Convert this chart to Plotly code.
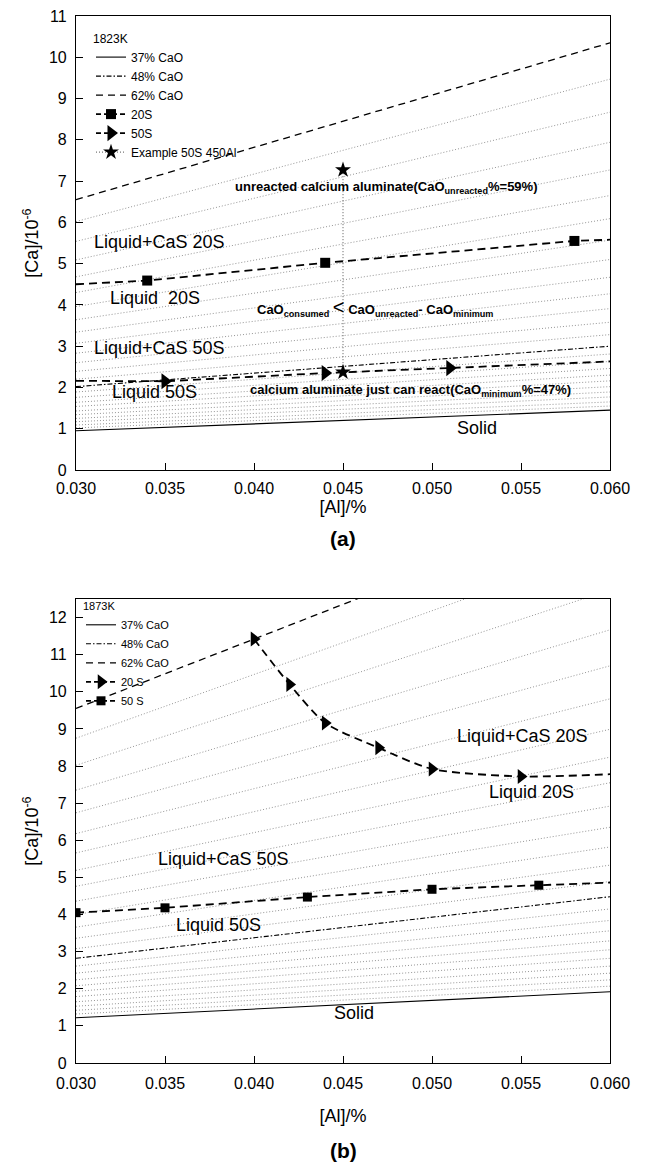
import plotly.graph_objects as go

FONT = "Liberation Sans, Arial, sans-serif"

# ---------------- iso-CaO lines (CaO mass % of the calcium aluminate) ----------------
cao_pct = [37, 38, 39, 40, 41, 42, 43, 44, 45, 46, 47, 48, 49,
           50, 51, 52, 53, 54, 55, 56, 57, 58, 59, 60, 61, 62]
al_span = [0.030, 0.060]

# 1823 K: [Ca] at [Al]=0.030 and at [Al]=0.060
iso_a_left = [0.95, 1.02, 1.09, 1.17, 1.25, 1.34, 1.43, 1.54, 1.64, 1.76, 1.89, 2.02, 2.20,
              2.39, 2.60, 2.83, 3.07, 3.34, 3.64, 3.96, 4.30, 4.68, 5.09, 5.54, 6.02, 6.55]
iso_a_right = [1.45, 1.55, 1.65, 1.77, 1.89, 2.02, 2.16, 2.30, 2.46, 2.63, 2.81, 3.00, 3.28,
               3.58, 3.91, 4.27, 4.67, 5.10, 5.57, 6.09, 6.65, 7.27, 7.94, 8.67, 9.47, 10.35]

# 1873 K
iso_b_left = [1.22, 1.32, 1.42, 1.53, 1.65, 1.79, 1.93, 2.08, 2.24, 2.42, 2.61, 2.82, 3.08,
              3.36, 3.66, 4.00, 4.36, 4.76, 5.19, 5.66, 6.18, 6.74, 7.35, 8.02, 8.75, 9.55]
iso_b_right = [1.92, 2.07, 2.24, 2.42, 2.61, 2.82, 3.05, 3.29, 3.56, 3.84, 4.15, 4.48, 4.89,
               5.33, 5.82, 6.35, 6.92, 7.55, 8.24, 8.99, 9.81, 10.70, 11.67, 12.74, 13.90, 15.16]

# ---------------- CaS saturation lines, 1823 K ----------------
s20_a_al = [0.034, 0.044, 0.058]
s20_a_ca = [4.59, 5.02, 5.55]
s20_a_line_al = [0.030, 0.034, 0.044, 0.058, 0.060]
s20_a_line_ca = [4.50, 4.59, 5.02, 5.55, 5.58]

s50_a_al = [0.035, 0.044, 0.051]
s50_a_ca = [2.15, 2.35, 2.47]
s50_a_line_al = [0.030, 0.035, 0.044, 0.051, 0.060]
s50_a_line_ca = [2.16, 2.15, 2.35, 2.47, 2.63]

example_al = [0.045, 0.045]
example_ca = [2.37, 7.27]

# ---------------- CaS saturation lines, 1873 K ----------------
s20_b_al = [0.040, 0.042, 0.044, 0.047, 0.050, 0.055]
s20_b_ca = [11.42, 10.20, 9.16, 8.49, 7.92, 7.72]
s20_b_line_al = [0.040, 0.042, 0.044, 0.047, 0.050, 0.055, 0.060]
s20_b_line_ca = [11.42, 10.20, 9.16, 8.49, 7.92, 7.72, 7.78]

s50_b_al = [0.030, 0.035, 0.043, 0.050, 0.056]
s50_b_ca = [4.05, 4.18, 4.47, 4.68, 4.79]
s50_b_line_al = [0.030, 0.035, 0.043, 0.050, 0.056, 0.060]
s50_b_line_ca = [4.05, 4.18, 4.47, 4.68, 4.79, 4.86]

x_ticks = [0.030, 0.035, 0.040, 0.045, 0.050, 0.055, 0.060]

STYLED = {37: ("solid", 1.1, "37% CaO"),
          48: ("5px,2px,1.5px,2px", 1.1, "48% CaO"),
          62: ("7px,5px", 1.3, "62% CaO")}

fig = go.Figure()


def add_isolines(left, right, xa, ya, legend):
    xs, ys = [], []
    for pct, l, r in zip(cao_pct, left, right):
        if pct in STYLED:
            continue
        xs += [al_span[0], al_span[1], None]
        ys += [l, r, None]
    fig.add_trace(go.Scatter(x=xs, y=ys, mode="lines", xaxis=xa, yaxis=ya,
                             line=dict(color="#7a7a7a", width=0.8, dash="1px,2px"),
                             showlegend=False, hoverinfo="skip"))
    for pct, l, r in zip(cao_pct, left, right):
        if pct not in STYLED:
            continue
        dash, w, name = STYLED[pct]
        fig.add_trace(go.Scatter(x=al_span, y=[l, r], mode="lines", name=name,
                                 xaxis=xa, yaxis=ya, legend=legend,
                                 line=dict(color="black", width=w, dash=dash)))


def add_series(line_x, line_y, pts_x, pts_y, name, symbol, size, xa, ya, legend, shape="linear"):
    line = dict(color="black", width=1.8, dash="8px,5px", shape=shape, smoothing=0.7)
    fig.add_trace(go.Scatter(x=line_x, y=line_y, mode="lines", xaxis=xa, yaxis=ya,
                             line=line, showlegend=False))
    fig.add_trace(go.Scatter(x=pts_x, y=pts_y, mode="markers", xaxis=xa, yaxis=ya,
                             marker=dict(symbol=symbol, size=size, color="black"),
                             showlegend=False))
    # legend key (line + marker)
    fig.add_trace(go.Scatter(x=[None], y=[None], mode="lines+markers", name=name,
                             xaxis=xa, yaxis=ya, legend=legend,
                             line=dict(color="black", width=1.8, dash="5px,3px"),
                             marker=dict(symbol=symbol, size=size, color="black")))


# ---- panel (a) ----
add_isolines(iso_a_left, iso_a_right, "x", "y", "legend")
add_series(s20_a_line_al, s20_a_line_ca, s20_a_al, s20_a_ca, "20S", "square", 10, "x", "y", "legend")
add_series(s50_a_line_al, s50_a_line_ca, s50_a_al, s50_a_ca, "50S", "triangle-right", 14, "x", "y", "legend")
fig.add_trace(go.Scatter(x=example_al, y=example_ca, mode="lines+markers", name="Example 50S 450Al",
                         xaxis="x", yaxis="y", legend="legend",
                         line=dict(color="#555555", width=1, dash="1px,2px"),
                         marker=dict(symbol="star", size=12, color="black")))

# ---- panel (b) ----
add_isolines(iso_b_left, iso_b_right, "x2", "y2", "legend2")
add_series(s20_b_line_al, s20_b_line_ca, s20_b_al, s20_b_ca, "20 S", "triangle-right", 13, "x2", "y2",
           "legend2", shape="spline")
add_series(s50_b_line_al, s50_b_line_ca, s50_b_al, s50_b_ca, "50 S", "square", 9, "x2", "y2", "legend2")

axis_common = dict(showline=True, linecolor="black", linewidth=1.2, mirror=True,
                   ticks="inside", ticklen=7, tickwidth=1.2, tickcolor="black",
                   showgrid=False, zeroline=False, automargin=False,
                   tickfont=dict(family=FONT, size=16, color="black"))

# page geometry (pixels)
W, H = 652, 1165
L, R, T, B = 76, 610, 16, 1063          # outer box of both panels
A_BOTTOM, B_TOP = 470, 599
PW, PH = R - L, B - T


def px(xp):
    return (xp - L) / PW


def py(yp):
    return 1 - (yp - T) / PH


ydom_a = [py(A_BOTTOM), 1.0]
ydom_b = [0.0, py(B_TOP)]

title_font = dict(family=FONT, size=18, color="black")

fig.update_layout(
    width=W, height=H, margin=dict(l=L, r=W - R, t=T, b=H - B, autoexpand=False),
    paper_bgcolor="white", plot_bgcolor="white",
    font=dict(family=FONT, color="black"),
    xaxis=dict(domain=[0, 1], anchor="y", range=al_span, tickvals=x_ticks,
               tickformat=".3f", ticklabelstandoff=4,
               title=dict(text="[Al]/%", font=title_font, standoff=4), **axis_common),
    yaxis=dict(domain=ydom_a, anchor="x", range=[0, 11], dtick=1, ticklabelstandoff=5,
               title=dict(text="[Ca]/10<sup>-6</sup>", font=title_font, standoff=5), **axis_common),
    xaxis2=dict(domain=[0, 1], anchor="y2", range=al_span, tickvals=x_ticks,
                tickformat=".3f", ticklabelstandoff=6,
                title=dict(text="[Al]/%", font=title_font, standoff=18), **axis_common),
    yaxis2=dict(domain=ydom_b, anchor="x2", range=[0, 12.5], dtick=1, ticklabelstandoff=5,
                title=dict(text="[Ca]/10<sup>-6</sup>", font=title_font, standoff=5), **axis_common),
    legend=dict(x=px(91), y=py(27), xanchor="left", yanchor="top",
                bgcolor="rgba(0,0,0,0)", borderwidth=0,
                font=dict(family=FONT, size=12, color="black"),
                title=dict(text="1823K", font=dict(family=FONT, size=12, color="black"))),
    legend2=dict(x=px(81), y=py(596), xanchor="left", yanchor="top",
                 bgcolor="rgba(0,0,0,0)", borderwidth=0,
                 font=dict(family=FONT, size=11, color="black"),
                 title=dict(text="1873K", font=dict(family=FONT, size=11, color="black"))),
)

region_font = dict(family=FONT, size=18, color="black")
bold_font = dict(family=FONT, size=13, color="black")

notes_a = [
    ("Liquid+CaS 20S", 0.0309, 5.52, "left", region_font),
    ("Liquid  20S", 0.0318, 4.16, "left", region_font),
    ("Liquid+CaS 50S", 0.0309, 2.95, "left", region_font),
    ("Liquid 50S", 0.0319, 1.89, "left", region_font),
    ("Solid", 0.0525, 1.02, "center", region_font),
    ("<b>unreacted calcium aluminate(CaO<sub>unreacted</sub>%=59%)</b>", 0.0474, 6.84, "center", bold_font),
    ("<b>CaO<sub>consumed</sub></b> <span style='font-size:20px;font-weight:normal'>&lt;</span> "
     "<b>CaO<sub>unreacted</sub>- CaO<sub>minimum</sub></b>", 0.0468, 3.93, "center", bold_font),
    ("<b>calcium aluminate just can react(CaO<sub>minimum</sub>%=47%)</b>", 0.0488, 1.92, "center", bold_font),
]
for text, x, y, anchor, f in notes_a:
    fig.add_annotation(text=text, x=x, y=y, xref="x", yref="y", xanchor=anchor, yanchor="middle",
                       showarrow=False, font=f)

notes_b = [
    ("Liquid+CaS 20S", 0.0551, 8.80),
    ("Liquid 20S", 0.0556, 7.29),
    ("Liquid+CaS 50S", 0.0383, 5.50),
    ("Liquid 50S", 0.0380, 3.73),
    ("Solid", 0.0456, 1.34),
]
for text, x, y in notes_b:
    fig.add_annotation(text=text, x=x, y=y, xref="x2", yref="y2", xanchor="center", yanchor="middle",
                       showarrow=False, font=region_font)

for label, ypix in (("(a)", 538), ("(b)", 1150)):
    fig.add_annotation(text="<b>%s</b>" % label, x=0.5, y=py(ypix),
                       xref="paper", yref="paper", xanchor="center", yanchor="middle",
                       showarrow=False, font=dict(family=FONT, size=21, color="black"))

fig.write_html("out.html")
